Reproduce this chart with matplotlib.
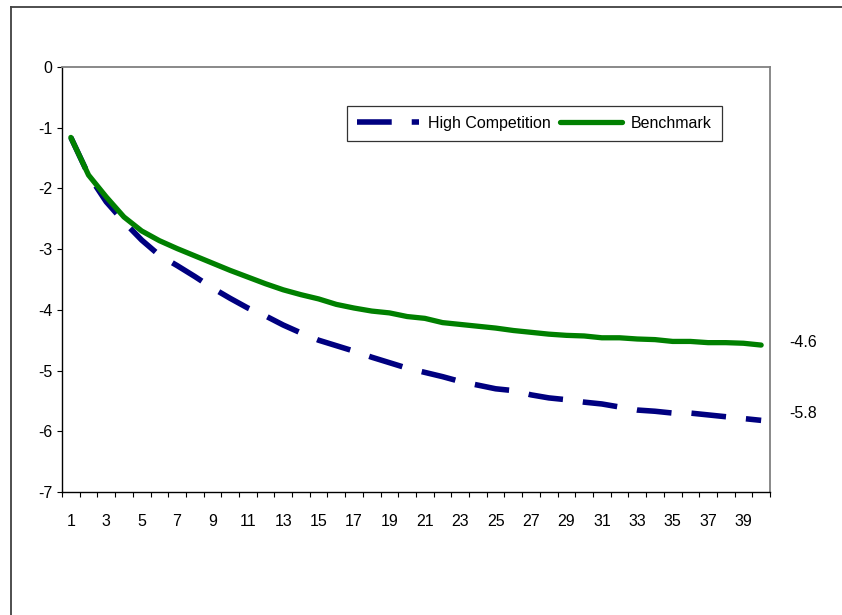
import matplotlib
matplotlib.use("Agg")
import matplotlib.pyplot as plt
from matplotlib.lines import Line2D
import numpy as np

plt.rcParams['font.family'] = ['Liberation Sans', 'DejaVu Sans']
plt.rcParams['lines.scale_dashes'] = False

periods = list(range(1, 41))
high_competition = [-1.16, -1.78, -2.22, -2.55, -2.85, -3.10, -3.27, -3.45, -3.64, -3.81,
                    -3.97, -4.10, -4.25, -4.38, -4.50, -4.59, -4.68, -4.78, -4.87, -4.96,
                    -5.03, -5.10, -5.18, -5.24, -5.30, -5.33, -5.40, -5.45, -5.48, -5.52,
                    -5.55, -5.60, -5.65, -5.67, -5.70, -5.70, -5.73, -5.76, -5.79, -5.82]
benchmark = [-1.16, -1.78, -2.14, -2.47, -2.70, -2.86, -2.99, -3.11, -3.23, -3.35,
             -3.46, -3.57, -3.67, -3.75, -3.82, -3.91, -3.97, -4.02, -4.05, -4.11,
             -4.14, -4.21, -4.24, -4.27, -4.30, -4.34, -4.37, -4.40, -4.42, -4.43,
             -4.46, -4.46, -4.48, -4.49, -4.52, -4.52, -4.54, -4.54, -4.55, -4.58]
end_labels = ["-5.8", "-4.6"]
series_names = ["High Competition", "Benchmark"]
y_ticks = list(range(-7, 1))
x_tick_labels = [str(v) for v in range(1, 40, 2)]

W, H = 842, 615
FS = 11.5
fig = plt.figure(figsize=(W / 100, H / 100), dpi=100)
ax = fig.add_axes([62 / W, 1 - 492 / H, (770 - 62) / W, (492 - 67) / H])

blue = '#000080'
green = '#008000'

l1, = ax.plot(periods, high_competition, color=blue, lw=4.0,
              dashes=(25.0, 14.4), dash_capstyle='butt', solid_capstyle='round')
l2, = ax.plot(periods, benchmark, color=green, lw=3.8, solid_capstyle='round',
              solid_joinstyle='round')

ax.set_xlim(0.5, 40.5)
ax.set_ylim(-7, 0)

# y axis
ax.set_yticks(y_ticks)
ax.set_yticklabels([str(v) for v in y_ticks])
ax.tick_params(axis='y', direction='out', length=3.6, width=0.8, pad=3.4,
               labelsize=FS, colors='black')

# x axis: ticks at category boundaries, labels at odd categories
ax.set_xticks(np.arange(0.5, 41.0, 1.0))
ax.set_xticklabels([])
ax.tick_params(axis='x', which='major', direction='out', length=3.6, width=0.8)
ax.set_xticks(list(range(1, 40, 2)), minor=True)
ax.set_xticklabels(x_tick_labels, minor=True)
ax.tick_params(axis='x', which='minor', length=0, pad=15.5, labelsize=FS)

for s in ['top', 'right']:
    ax.spines[s].set_color('#808080')
    ax.spines[s].set_linewidth(1.3)
for s in ['left', 'bottom']:
    ax.spines[s].set_color('black')
    ax.spines[s].set_linewidth(1.0)

# end labels
ax.annotate(end_labels[0], xy=(periods[-1], high_competition[-1]), xytext=(20.5, 5),
            textcoords='offset points', ha='left', va='center', fontsize=FS,
            annotation_clip=False)
ax.annotate(end_labels[1], xy=(periods[-1], benchmark[-1]), xytext=(20.5, 1.5),
            textcoords='offset points', ha='left', va='center', fontsize=FS,
            annotation_clip=False)

# legend
leg = fig.legend([l1, l2], series_names, ncol=2, loc='upper left',
                 bbox_to_anchor=(347 / W, 1 - 106 / H), bbox_transform=fig.transFigure,
                 fontsize=FS, frameon=True, fancybox=False, shadow=False,
                 handlelength=3.9, handletextpad=0.56, columnspacing=0.55,
                 borderpad=0.62, borderaxespad=0)
leg.get_frame().set_edgecolor('black')
leg.get_frame().set_linewidth(0.9)

# outer chart border (partially outside the image)
fig.add_artist(Line2D([11 / W, 11 / W], [1 - 7 / H, -0.05], transform=fig.transFigure,
                      color='#404040', lw=1.3))
fig.add_artist(Line2D([11 / W, 1.05], [1 - 7 / H, 1 - 7 / H], transform=fig.transFigure,
                      color='#404040', lw=1.3))

fig.savefig('out.png', dpi=100)
